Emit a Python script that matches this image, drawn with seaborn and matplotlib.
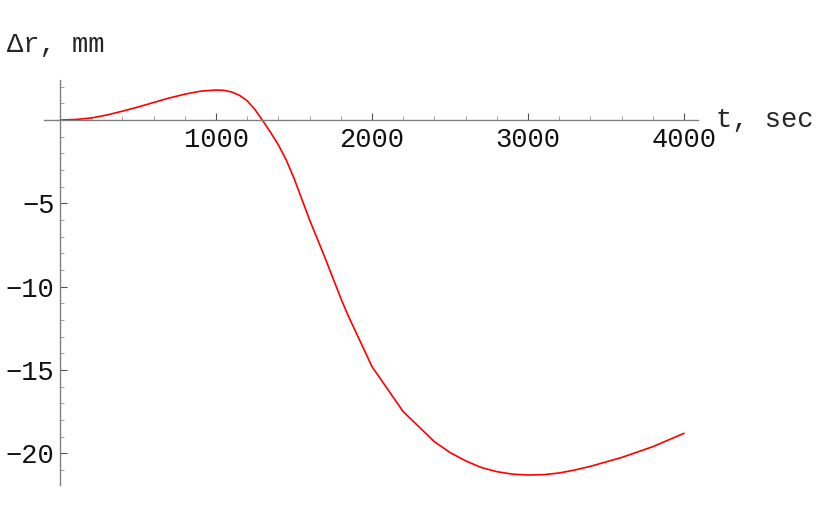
import numpy as np
import pandas as pd
import matplotlib
matplotlib.use("Agg")
import matplotlib.pyplot as plt
import seaborn as sns
from matplotlib.ticker import MultipleLocator

# displacement over time
t_sec = [0, 100, 200, 300, 400, 500, 600, 700, 800, 900, 1000, 1050, 1100,
         1150, 1200, 1250, 1300, 1350, 1400, 1450, 1500, 1600, 1700, 1800,
         1850, 2000, 2200, 2400, 2500, 2600, 2700, 2800, 2900, 3000, 3100,
         3200, 3300, 3400, 3600, 3800, 4000]
dr_mm = [0.0, 0.03, 0.12, 0.3, 0.53, 0.78, 1.05, 1.32, 1.55, 1.73, 1.8, 1.78,
         1.68, 1.48, 1.15, 0.62, -0.05, -0.75, -1.5, -2.4, -3.5, -6.0, -8.3,
         -10.7, -11.8, -14.8, -17.5, -19.3, -19.95, -20.45, -20.85, -21.1,
         -21.25, -21.3, -21.28, -21.18, -21.0, -20.78, -20.25, -19.6, -18.8]
x_ticks = [1000, 2000, 3000, 4000]
y_ticks = [-5, -10, -15, -20]

df = pd.DataFrame({"t": t_sec, "dr": dr_mm})

sns.set_style("white")
plt.rcParams["font.family"] = ["Liberation Mono", "DejaVu Sans"]

fig = plt.figure(figsize=(8.3, 5.13), dpi=100)
ax = fig.add_axes([44 / 830, 1 - 485 / 513, (698 - 44) / 830, (485 - 80) / 513])

sns.lineplot(data=df, x="t", y="dr", color="#ff0000", linewidth=1.2, ax=ax)

ax.set_xlim(-103, 4090)
ax.set_ylim(-21.9, 2.4)

# axes cross at the origin, like Mathematica
for side in ["top", "right"]:
    ax.spines[side].set_visible(False)
ax.spines["left"].set_position(("data", 0))
ax.spines["bottom"].set_position(("data", 0))
for side in ["left", "bottom"]:
    ax.spines[side].set_color("#808080")
    ax.spines[side].set_linewidth(1.0)

ax.set_xticks(x_ticks)
ax.set_yticks(y_ticks)
ax.set_yticklabels(["\u2212" + str(abs(v)) for v in y_ticks])
ax.xaxis.set_minor_locator(MultipleLocator(200))
ax.yaxis.set_minor_locator(MultipleLocator(1))
ax.tick_params(axis="both", which="both", bottom=True, left=True,
               top=False, right=False)
ax.tick_params(axis="both", which="major", direction="in", length=5,
               width=0.8, color="#505050", labelsize=19.5, pad=4,
               labelcolor="#111111")
ax.tick_params(axis="both", which="minor", direction="in", length=3,
               width=0.6, color="#909090")
ax.tick_params(axis="x", which="major", pad=5)

ax.set_xlabel("")
ax.set_ylabel("")
fig.text(7 / 830, 1 - 45 / 513, "\u0394r, mm", fontsize=19.5, va="center", ha="left")
fig.text(716 / 830, 1 - 120 / 513, "t, sec", fontsize=19.5, va="center", ha="left")

fig.savefig("out.png", dpi=100)
